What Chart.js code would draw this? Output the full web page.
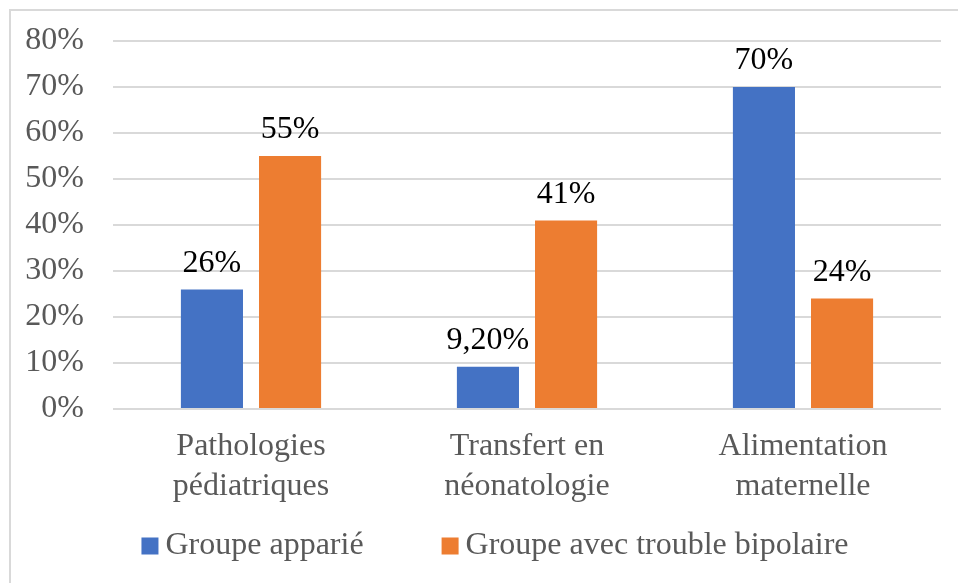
<!DOCTYPE html>
<html>
<head>
<meta charset="utf-8">
<script src="https://cdn.jsdelivr.net/npm/chart.js@4/dist/chart.umd.min.js"></script>
<style>
  html, body { margin: 0; padding: 0; background: #fff; }
  #wrap { width: 958px; height: 583px; position: relative; }
</style>
</head>
<body>
<div id="wrap"><canvas id="barChart" width="958" height="583"></canvas></div>
<script>
// chart data
const categories = [
  ["Pathologies", "pédiatriques"],
  ["Transfert en", "néonatologie"],
  ["Alimentation", "maternelle"]
];
const seriesNames = ["Groupe apparié", "Groupe avec trouble bipolaire"];
const groupeApparie = [26, 9.2, 70];
const groupeBipolaire = [55, 41, 24];
const labelsApparie = ["26%", "9,20%", "70%"];
const labelsBipolaire = ["55%", "41%", "24%"];
const yMax = 80;
const yStep = 10;

const serif = "'Liberation Serif', 'Times New Roman', serif";

// frame of the chart (left and top edge, like the excel export)
const framePlugin = {
  id: "frame",
  beforeDraw(chart) {
    const ctx = chart.ctx;
    ctx.save();
    ctx.strokeStyle = "#d9d9d9";
    ctx.lineWidth = 2;
    ctx.beginPath();
    ctx.moveTo(10, 583);
    ctx.lineTo(10, 10);
    ctx.lineTo(958, 10);
    ctx.stroke();
    ctx.restore();
  }
};

// value labels above each bar
const valueLabelPlugin = {
  id: "valueLabels",
  afterDatasetsDraw(chart) {
    const ctx = chart.ctx;
    ctx.save();
    ctx.font = "32px " + serif;
    ctx.fillStyle = "#000";
    ctx.textAlign = "center";
    ctx.textBaseline = "bottom";
    chart.data.datasets.forEach((ds, i) => {
      const meta = chart.getDatasetMeta(i);
      meta.data.forEach((bar, j) => {
        ctx.fillText(ds.valueLabels[j], bar.x, bar.y - 10);
      });
    });
    ctx.restore();
  }
};

// legend under the chart, excel style (small gap box -> text, wide gap between items)
const legendPlugin = {
  id: "excelLegend",
  afterDraw(chart) {
    const ctx = chart.ctx;
    const box = 17, gapText = 7, gapItem = 78;
    ctx.save();
    ctx.font = "32px " + serif;
    ctx.textBaseline = "middle";
    ctx.textAlign = "left";
    const items = chart.data.datasets.map(ds => ({
      text: ds.label,
      color: ds.backgroundColor,
      w: ctx.measureText(ds.label).width
    }));
    let total = 0;
    items.forEach((it, i) => {
      total += box + gapText + it.w + (i > 0 ? gapItem : 0);
    });
    const centerX = (chart.chartArea.left + chart.chartArea.right) / 2 - 32;
    const centerY = 546;
    let x = centerX - total / 2;
    items.forEach(it => {
      ctx.fillStyle = it.color;
      ctx.fillRect(x, centerY - box / 2, box, box);
      ctx.fillStyle = "#595959";
      ctx.fillText(it.text, x + box + gapText, centerY);
      x += box + gapText + it.w + gapItem;
    });
    ctx.restore();
  }
};

const ctxBar = document.getElementById("barChart");

new Chart(ctxBar, {
  type: "bar",
  data: {
    labels: categories,
    datasets: [
      {
        label: seriesNames[0],
        data: groupeApparie,
        valueLabels: labelsApparie,
        backgroundColor: "#4472C4",
        categoryPercentage: 0.566,
        barPercentage: 0.795
      },
      {
        label: seriesNames[1],
        data: groupeBipolaire,
        valueLabels: labelsBipolaire,
        backgroundColor: "#ED7D31",
        categoryPercentage: 0.566,
        barPercentage: 0.795
      }
    ]
  },
  options: {
    responsive: false,
    animation: false,
    layout: {
      padding: { left: 10, right: 17, top: 41, bottom: 73 }
    },
    plugins: {
      tooltip: { enabled: false },
      legend: { display: false }
    },
    scales: {
      x: {
        grid: { display: false },
        border: { display: false },
        ticks: {
          color: "#595959",
          padding: 10,
          maxRotation: 0,
          font: { family: serif, size: 32, lineHeight: 1.25 }
        },
        afterFit(scale) { scale.height = 101; }
      },
      y: {
        min: 0,
        max: yMax,
        border: { display: false },
        grid: { color: "#d9d9d9", lineWidth: 2, drawTicks: false },
        ticks: {
          stepSize: yStep,
          color: "#595959",
          padding: 29,
          font: { family: serif, size: 32 },
          callback: (v) => v + "%"
        },
        afterFit(scale) {
          scale.width = 103;
          scale.paddingTop = 0;
          scale.paddingBottom = 0;
        }
      }
    }
  },
  plugins: [framePlugin, valueLabelPlugin, legendPlugin]
});
</script>
</body>
</html>
